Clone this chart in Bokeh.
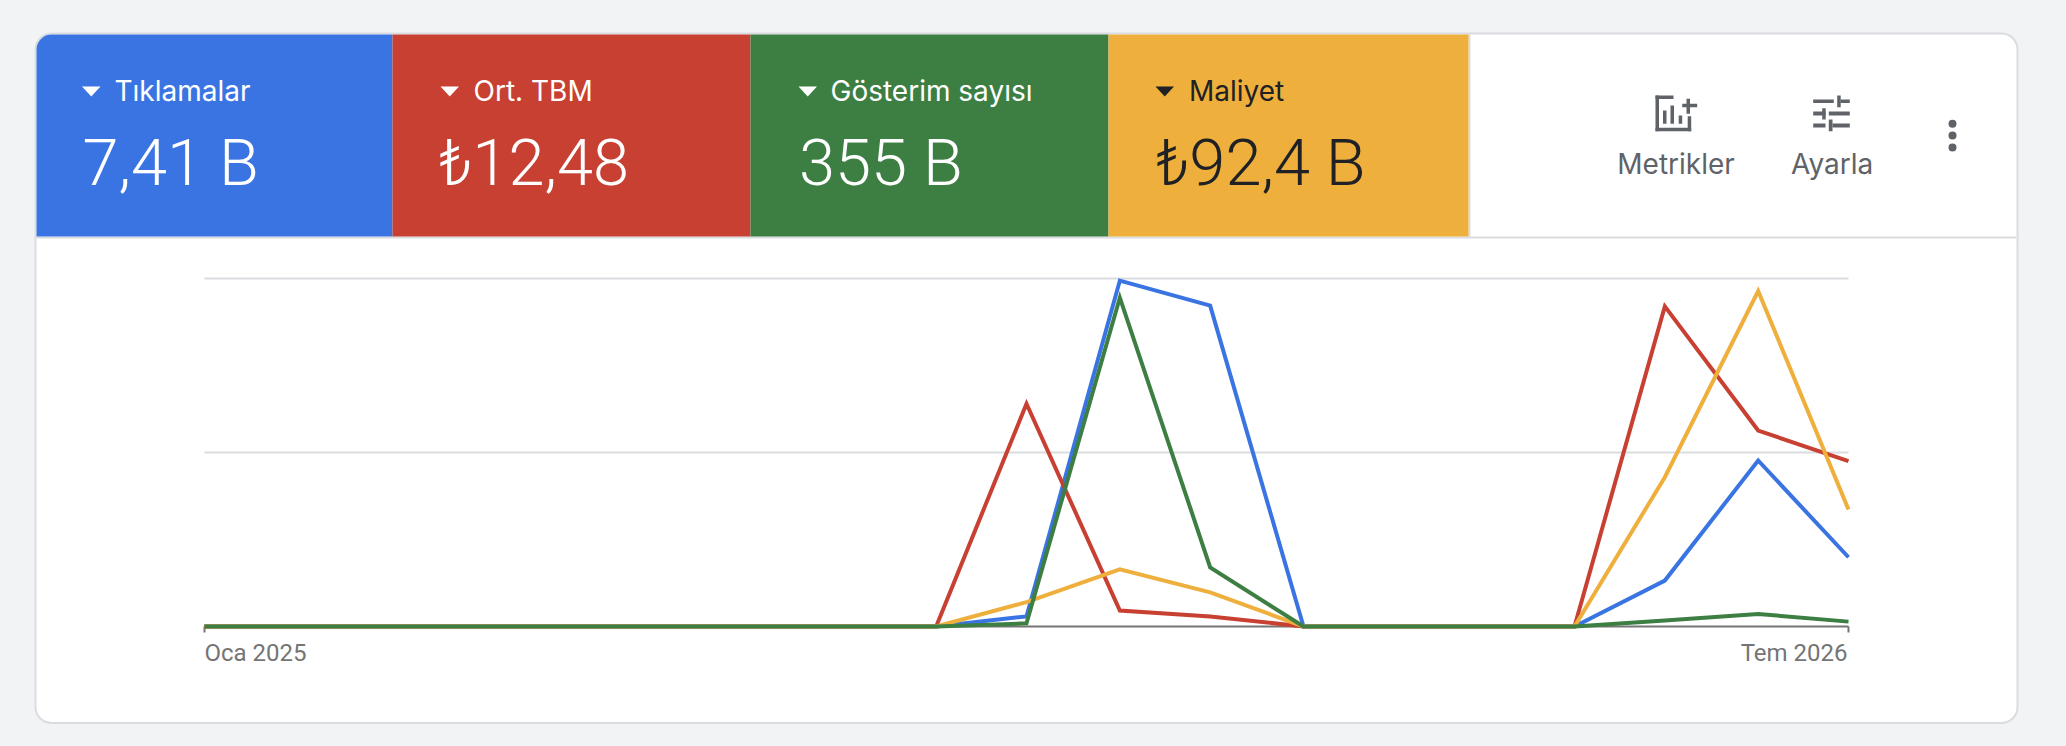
from datetime import datetime
from bokeh.core.properties import value
from bokeh.embed import file_html
from bokeh.models import ColumnDataSource, DatetimeAxis, FixedTicker, Range1d
from bokeh.plotting import figure
from bokeh.resources import INLINE

# ---- data (normalised height of each series, % of the top gridline)
months = [datetime(2025, 1, 1), datetime(2025, 9, 1), datetime(2025, 10, 1), datetime(2025, 11, 1),
          datetime(2025, 12, 1), datetime(2026, 1, 1), datetime(2026, 4, 1), datetime(2026, 5, 1),
          datetime(2026, 6, 1), datetime(2026, 7, 1)]
clicks      = [0, 0, 2.9, 99.4, 92.2, 0, 0, 13.2, 47.7, 19.9]
avg_cpc     = [0, 0, 64.0, 4.6, 2.9, 0, 0, 92.0, 56.3, 47.5]
cost        = [0, 0, 7.0, 16.4, 9.8, 0, 0, 42.9, 96.4, 33.6]
impressions = [0, 0, 0.9, 94.5, 17.0, 0, 0, 1.7, 3.6, 1.4]

metric_names  = ["Tıklamalar", "Ort. TBM", "Gösterim sayısı", "Maliyet"]
metric_values = ["7,41 B", "₺12,48", "355 B", "₺92,4 B"]
x_tick_dates  = [datetime(2025, 1, 1), datetime(2026, 7, 1)]
x_tick_labels = ["Oca 2025", "Tem 2026"]
y_grid_ticks  = [50, 100]
action_labels = ["Metrikler", "Ayarla"]

# ---- style
BLUE, RED, GREEN, YELLOW = "#3A74E3", "#C84032", "#3D7E43", "#EEAF3D"
PAGE_BG, BORDER, ICON, AXIS = "#F1F3F5", "#DADCE0", "#5F6368", "#757575"
DARK = "#202124"
W, H = 2066, 746
X0, X1, Y0, Y100 = 204, 1848, 626, 278
SHIFT = 0.33  # distance, in font sizes, between Bokeh's baseline and the wanted one

def ms(d):
    return (d - datetime(1970, 1, 1)).total_seconds() * 1000

t0, t1 = ms(x_tick_dates[0]), ms(x_tick_dates[1])
ms_per_px = (t1 - t0) / (X1 - X0)
units_per_px = 100 / (Y0 - Y100)

p = figure(width=W, height=H, output_backend="svg", toolbar_location=None,
           x_axis_type=None,
           x_range=Range1d(t0 - X0 * ms_per_px, t1 + (W - X1) * ms_per_px),
           y_range=Range1d(-(H - Y0) * units_per_px, Y0 * units_per_px),
           min_border=0, border_fill_color=PAGE_BG, background_fill_color=PAGE_BG, outline_line_color=None)
p.extra_x_ranges["px"] = Range1d(0, W)
p.extra_y_ranges["px"] = Range1d(H, 0)
PX = dict(x_range_name="px", y_range_name="px")

def rects(items, color, **kw):
    l, r, t, b = zip(*items)
    return p.quad(left=l, right=r, top=t, bottom=b, fill_color=color, line_color=None, **PX, **kw)

def text(px, py, s, size, color, font="Roboto", align="left"):
    p.text(x=[px], y=[py - SHIFT * size], text=[s], text_color=color, text_font=value(font),
           text_font_size=value(f"{size}px"), text_align=align, text_baseline="alphabetic", **PX)

# card
p.quad(left=[35], right=[2017], top=[33], bottom=[722.5], fill_color="#FFFFFF", line_color=BORDER, line_width=2,
       border_radius=16, level="image", **PX)
rects([(36, 2016, 236, 238), (1468, 1470, 34, 236)], BORDER)

# tiles
tile_edges = [36, 392, 750, 1108, 1468]
tile_colors = [BLUE, RED, GREEN, YELLOW]
tile_text = ["#FFFFFF", "#FFFFFF", "#FFFFFF", DARK]
tri_left = [81.5, 440, 798, 1155]
label_left = [114, 473, 830, 1188.5]
value_left = [82, 438.5, 798.5, 1155.5]
for i in range(4):
    p.quad(left=[tile_edges[i]], right=[tile_edges[i + 1]], top=[34], bottom=[236], fill_color=tile_colors[i],
           line_color=None, border_radius=(15, 0, 0, 0) if i == 0 else 0, **PX)
    t = tri_left[i]
    p.patch(x=[t, t + 18.5, t + 9.25], y=[86, 86, 96], fill_color=tile_text[i], line_color=None, **PX)
    text(label_left[i], 99.5, metric_names[i], 28, tile_text[i], font="Inter")
    text(value_left[i], 184, metric_values[i], 65, tile_text[i], font="Roboto Light")

# "Metrikler" icon
rects([(1655, 1658.5, 95, 130.7), (1655, 1673, 95, 98.5), (1655, 1690.7, 127.2, 130.7),
       (1687.2, 1690.7, 115.7, 130.7), (1662.5, 1666, 110, 123.3), (1670, 1673.5, 105, 123.3),
       (1678.2, 1681.7, 115, 123.3), (1686, 1689.5, 98.3, 113.3), (1681.7, 1696.7, 103.3, 106.8)], ICON)
# "Ayarla" icon
rects([(1812.7, 1833.3, 99, 102.5), (1836.7, 1840.2, 95, 106.7), (1840, 1849.3, 99, 102.5),
       (1812.7, 1825, 111, 115), (1821.7, 1825.2, 107.7, 119), (1828.3, 1849.3, 111, 115),
       (1812.7, 1825, 123, 127), (1828.3, 1832, 119, 130.7), (1832, 1849.3, 123, 127)], ICON)
# kebab menu
p.scatter(x=[1952, 1952, 1952], y=[123.3, 135, 147], size=8, fill_color=ICON, line_color=None, **PX)

text(1675.6, 172.7, action_labels[0], 28, ICON, font="Inter", align="center")
text(1831.6, 172.7, action_labels[1], 28, ICON, font="Inter", align="center")

# chart
p.yaxis.visible = False
p.xgrid.visible = False
p.ygrid.visible = False
p.segment(x0=[t0] * len(y_grid_ticks), x1=[t1] * len(y_grid_ticks), y0=y_grid_ticks, y1=y_grid_ticks,
          line_color=BORDER, line_width=2, level="underlay")

ax = DatetimeAxis(fixed_location=0, bounds=(t0, t1), level="underlay")
ax.ticker = FixedTicker(ticks=[t0, t1])
ax.major_label_overrides = {t0: "", t1: ""}
ax.axis_line_color = AXIS
ax.axis_line_width = 2
ax.major_tick_line_color = AXIS
ax.major_tick_line_width = 2
ax.major_tick_out = 6
ax.major_tick_in = 0
ax.minor_tick_line_color = None
p.add_layout(ax, "below")

for d, s, align, dx in zip(x_tick_dates, x_tick_labels, ["left", "right"], [0, -1]):
    p.text(x=[d], y=[0], text=[s], x_offset=dx, y_offset=34 - SHIFT * 24, text_color=AXIS,
           text_font=value("Roboto"), text_font_size=value("24px"), text_align=align, text_baseline="alphabetic")

source = ColumnDataSource(dict(x=months, clicks=clicks, avg_cpc=avg_cpc, cost=cost, impressions=impressions))
for col, color in [("clicks", BLUE), ("avg_cpc", RED), ("cost", YELLOW), ("impressions", GREEN)]:
    p.line("x", col, source=source, line_color=color, line_width=4, line_join="miter")

html = file_html(p, INLINE)
html = html.replace("</head>", f"<style>html,body{{background:{PAGE_BG};}}</style></head>", 1)
open("out.html", "w").write(html)
